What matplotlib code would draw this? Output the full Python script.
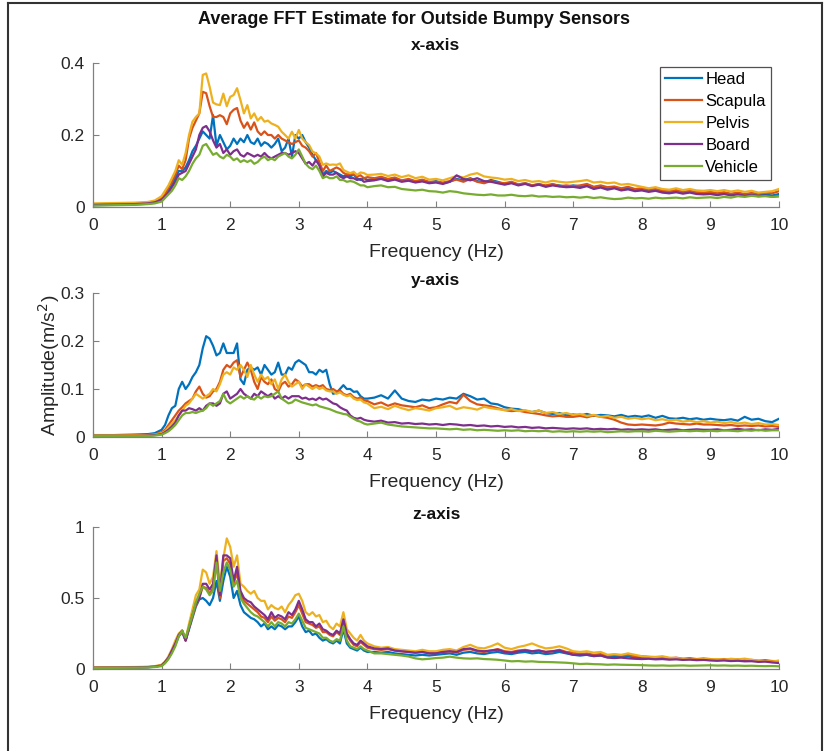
import numpy as np
import matplotlib
matplotlib.use("Agg")
import matplotlib.pyplot as plt
from matplotlib.lines import Line2D

plt.rcParams['font.family'] = ['Liberation Sans', 'DejaVu Sans']

# frequency bins (Hz): coarse below 1 Hz, finer through the resonance band
freq = np.round(np.concatenate([[0, 0.3, 0.6, 0.8, 0.9],
                                np.arange(1.0, 4.001, 0.05),
                                np.arange(4.1, 10.001, 0.1)]), 3)

sensors = ["Head", "Scapula", "Pelvis", "Board", "Vehicle"]
colors = ["#0072BD", "#D95319", "#EDB120", "#7E2F8E", "#77AC30"]

# ---- x-axis amplitudes (m/s^2)
x_head = [0.005, 0.006, 0.007, 0.009, 0.012,
          0.02, 0.03, 0.045, 0.06, 0.08, 0.1, 0.1, 0.11, 0.13, 0.155,
          0.17, 0.19, 0.21, 0.2, 0.19, 0.255, 0.17, 0.2, 0.18, 0.16,
          0.17, 0.19, 0.175, 0.19, 0.18, 0.2, 0.18, 0.175, 0.19, 0.17,
          0.18, 0.175, 0.165, 0.175, 0.19, 0.155, 0.165, 0.19, 0.14, 0.2,
          0.19, 0.2, 0.18, 0.165, 0.145, 0.13, 0.12, 0.09, 0.1, 0.095,
          0.1, 0.095, 0.09, 0.085, 0.09, 0.085, 0.09, 0.08, 0.075, 0.08,
          0.075,
          0.078, 0.082, 0.076, 0.08, 0.072, 0.075, 0.07, 0.074, 0.068,
          0.072, 0.066, 0.07, 0.078, 0.074, 0.08, 0.072, 0.068, 0.075, 0.07,
          0.064, 0.068, 0.062, 0.066, 0.06, 0.064, 0.058, 0.062, 0.06, 0.056,
          0.06, 0.057, 0.062, 0.055, 0.058, 0.052, 0.055, 0.05, 0.053, 0.048,
          0.05, 0.046, 0.048, 0.044, 0.042, 0.045, 0.04, 0.043, 0.04, 0.038,
          0.04, 0.036, 0.039, 0.035, 0.038, 0.034, 0.036, 0.033, 0.035, 0.032, 0.036]
x_scapula = [0.008, 0.009, 0.01, 0.012, 0.015,
             0.025, 0.035, 0.055, 0.07, 0.09, 0.115, 0.105, 0.13, 0.19, 0.22,
             0.24, 0.26, 0.32, 0.316, 0.28, 0.25, 0.25, 0.255, 0.25, 0.23,
             0.26, 0.27, 0.275, 0.24, 0.22, 0.235, 0.215, 0.235, 0.21, 0.2,
             0.21, 0.2, 0.2, 0.19, 0.2, 0.19, 0.185, 0.18, 0.175, 0.18,
             0.185, 0.17, 0.165, 0.155, 0.14, 0.15, 0.125, 0.1, 0.115, 0.1,
             0.105, 0.11, 0.105, 0.095, 0.09, 0.092, 0.09, 0.085, 0.088, 0.08,
             0.083,
             0.08, 0.084, 0.078, 0.082, 0.074, 0.078, 0.072, 0.076, 0.07,
             0.07, 0.068, 0.072, 0.076, 0.07, 0.078, 0.07, 0.066, 0.072, 0.068,
             0.066, 0.07, 0.063, 0.066, 0.06, 0.063, 0.06, 0.064, 0.058, 0.06,
             0.058, 0.06, 0.064, 0.056, 0.06, 0.055, 0.057, 0.052, 0.056, 0.05,
             0.052, 0.048, 0.05, 0.046, 0.044, 0.047, 0.042, 0.045, 0.041, 0.04,
             0.042, 0.039, 0.041, 0.037, 0.04, 0.036, 0.039, 0.037, 0.04, 0.038, 0.044]
x_pelvis = [0.01, 0.011, 0.012, 0.014, 0.018,
            0.03, 0.045, 0.06, 0.08, 0.1, 0.13, 0.117, 0.15, 0.2, 0.237,
            0.25, 0.26, 0.367, 0.371, 0.334, 0.29, 0.285, 0.283, 0.315, 0.28,
            0.306, 0.311, 0.33, 0.297, 0.26, 0.283, 0.246, 0.26, 0.24, 0.25,
            0.237, 0.24, 0.232, 0.228, 0.223, 0.209, 0.2, 0.19, 0.209, 0.19,
            0.214, 0.19, 0.18, 0.172, 0.154, 0.149, 0.14, 0.117, 0.121, 0.117,
            0.118, 0.117, 0.121, 0.103, 0.098, 0.094, 0.098, 0.089, 0.096, 0.094,
            0.089,
            0.09, 0.092, 0.086, 0.09, 0.083, 0.088, 0.08, 0.084, 0.076,
            0.078, 0.074, 0.08, 0.086, 0.082, 0.09, 0.094, 0.085, 0.082, 0.08,
            0.076, 0.078, 0.072, 0.075, 0.07, 0.072, 0.068, 0.073, 0.07, 0.068,
            0.07, 0.072, 0.075, 0.068, 0.07, 0.066, 0.068, 0.062, 0.064, 0.06,
            0.056, 0.052, 0.055, 0.05, 0.048, 0.052, 0.047, 0.05, 0.046, 0.045,
            0.047, 0.044, 0.047, 0.043, 0.046, 0.042, 0.045, 0.04, 0.042, 0.044, 0.05]
x_board = [0.006, 0.007, 0.008, 0.01, 0.013,
           0.02, 0.03, 0.04, 0.055, 0.07, 0.09, 0.095, 0.1, 0.12, 0.14,
           0.16, 0.2, 0.22, 0.225, 0.21, 0.185, 0.165, 0.175, 0.15, 0.16,
           0.145, 0.155, 0.16, 0.145, 0.14, 0.15, 0.145, 0.14, 0.145, 0.14,
           0.15, 0.14, 0.135, 0.14, 0.145, 0.15, 0.15, 0.145, 0.15, 0.155,
           0.15, 0.135, 0.12, 0.125, 0.115, 0.13, 0.115, 0.085, 0.095, 0.09,
           0.09, 0.095, 0.085, 0.08, 0.085, 0.08, 0.08, 0.075, 0.078, 0.07,
           0.072,
           0.074, 0.078, 0.072, 0.076, 0.07, 0.073, 0.068, 0.071, 0.066,
           0.068, 0.064, 0.07, 0.088, 0.078, 0.074, 0.08, 0.072, 0.07, 0.066,
           0.062, 0.066, 0.06, 0.064, 0.058, 0.062, 0.056, 0.06, 0.057, 0.055,
           0.056, 0.053, 0.058, 0.05, 0.054, 0.048, 0.052, 0.046, 0.049, 0.044,
           0.046, 0.042, 0.045, 0.04, 0.038, 0.041, 0.037, 0.04, 0.036, 0.035,
           0.036, 0.033, 0.036, 0.032, 0.035, 0.031, 0.033, 0.03, 0.032, 0.029, 0.03]
x_vehicle = [0.004, 0.005, 0.006, 0.008, 0.01,
             0.015, 0.025, 0.035, 0.045, 0.06, 0.08, 0.075, 0.085, 0.1, 0.12,
             0.135, 0.145, 0.17, 0.175, 0.16, 0.145, 0.15, 0.14, 0.135, 0.145,
             0.14, 0.13, 0.135, 0.125, 0.13, 0.125, 0.13, 0.12, 0.125, 0.135,
             0.14, 0.13, 0.135, 0.13, 0.14, 0.145, 0.15, 0.14, 0.135, 0.145,
             0.16, 0.14, 0.12, 0.11, 0.105, 0.115, 0.1, 0.08, 0.085, 0.08,
             0.08, 0.085, 0.075, 0.075, 0.07, 0.072, 0.07, 0.065, 0.06, 0.06,
             0.055,
             0.058, 0.06, 0.055, 0.056, 0.05, 0.048, 0.046, 0.048, 0.044,
             0.043, 0.04, 0.044, 0.042, 0.038, 0.036, 0.034, 0.033, 0.035, 0.032,
             0.032, 0.034, 0.031, 0.03, 0.032, 0.029, 0.03, 0.028, 0.029, 0.027,
             0.028, 0.026, 0.028, 0.025, 0.027, 0.024, 0.022, 0.023, 0.026, 0.024,
             0.025, 0.023, 0.026, 0.024, 0.025, 0.026, 0.024, 0.027, 0.025, 0.026,
             0.027, 0.025, 0.028, 0.026, 0.03, 0.028, 0.031, 0.029, 0.03, 0.028, 0.03]

# ---- y-axis amplitudes
y_head = [0.004, 0.004, 0.005, 0.006, 0.008,
          0.015, 0.025, 0.045, 0.06, 0.065, 0.1, 0.115, 0.1, 0.11, 0.125,
          0.135, 0.15, 0.185, 0.21, 0.205, 0.19, 0.17, 0.175, 0.195, 0.175,
          0.175, 0.175, 0.195, 0.12, 0.11, 0.14, 0.145, 0.14, 0.145, 0.13,
          0.15, 0.14, 0.13, 0.135, 0.155, 0.13, 0.13, 0.145, 0.14, 0.155,
          0.16, 0.155, 0.15, 0.135, 0.135, 0.13, 0.14, 0.135, 0.14, 0.11,
          0.09, 0.092, 0.1, 0.108, 0.1, 0.1, 0.094, 0.095, 0.085, 0.08,
          0.08,
          0.082, 0.087, 0.08, 0.097, 0.08, 0.075, 0.073, 0.078, 0.076,
          0.08, 0.078, 0.082, 0.08, 0.09, 0.085, 0.078, 0.08, 0.07, 0.068,
          0.062, 0.059, 0.058, 0.054, 0.052, 0.055, 0.05, 0.048, 0.05, 0.045,
          0.047, 0.045, 0.048, 0.044, 0.046, 0.045, 0.043, 0.046, 0.042, 0.044,
          0.042, 0.045, 0.04, 0.044, 0.039, 0.038, 0.04, 0.037, 0.039, 0.036,
          0.038, 0.036, 0.035, 0.037, 0.034, 0.042, 0.036, 0.038, 0.033, 0.031, 0.038]
y_scapula = [0.003, 0.003, 0.004, 0.004, 0.005,
             0.01, 0.015, 0.025, 0.035, 0.045, 0.055, 0.062, 0.07, 0.075, 0.08,
             0.095, 0.105, 0.09, 0.082, 0.085, 0.095, 0.1, 0.115, 0.14, 0.15,
             0.145, 0.155, 0.16, 0.125, 0.14, 0.155, 0.14, 0.115, 0.1, 0.125,
             0.115, 0.11, 0.12, 0.1, 0.095, 0.11, 0.115, 0.105, 0.11, 0.12,
             0.115, 0.105, 0.11, 0.11, 0.105, 0.108, 0.105, 0.108, 0.1, 0.098,
             0.1, 0.095, 0.097, 0.09, 0.087, 0.09, 0.083, 0.08, 0.082, 0.076,
             0.075,
             0.068, 0.072, 0.065, 0.07, 0.066, 0.064, 0.062, 0.066, 0.06,
             0.062, 0.068, 0.073, 0.07, 0.088, 0.075, 0.068, 0.066, 0.064, 0.06,
             0.056, 0.054, 0.055, 0.052, 0.05, 0.048, 0.045, 0.043, 0.044, 0.042,
             0.042, 0.044, 0.041, 0.045, 0.042, 0.04, 0.036, 0.03, 0.026, 0.025,
             0.026, 0.025, 0.024, 0.026, 0.03, 0.028, 0.027, 0.026, 0.028, 0.026,
             0.026, 0.025, 0.024, 0.025, 0.023, 0.024, 0.023, 0.024, 0.022, 0.023, 0.021]
y_pelvis = [0.003, 0.003, 0.003, 0.004, 0.005,
            0.008, 0.012, 0.02, 0.028, 0.035, 0.045, 0.055, 0.065, 0.07, 0.08,
            0.09, 0.085, 0.08, 0.085, 0.09, 0.1, 0.095, 0.11, 0.13, 0.135,
            0.13, 0.145, 0.14, 0.15, 0.14, 0.125, 0.15, 0.13, 0.115, 0.13,
            0.12, 0.125, 0.11, 0.12, 0.1, 0.12, 0.13, 0.115, 0.105, 0.11,
            0.115, 0.1, 0.11, 0.105, 0.1, 0.105, 0.1, 0.103, 0.097, 0.095,
            0.095, 0.09, 0.093, 0.088, 0.085, 0.087, 0.08, 0.077, 0.078, 0.072,
            0.07,
            0.06, 0.063, 0.058, 0.065, 0.06, 0.056, 0.06, 0.058, 0.055,
            0.06, 0.062, 0.065, 0.058, 0.062, 0.06, 0.057, 0.063, 0.06, 0.058,
            0.056, 0.058, 0.054, 0.056, 0.052, 0.055, 0.05, 0.052, 0.048, 0.05,
            0.046, 0.048, 0.044, 0.046, 0.042, 0.044, 0.04, 0.042, 0.038, 0.04,
            0.037, 0.039, 0.035, 0.037, 0.034, 0.036, 0.032, 0.034, 0.031, 0.033,
            0.03, 0.032, 0.029, 0.031, 0.028, 0.03, 0.027, 0.029, 0.026, 0.027, 0.025]
y_board = [0.002, 0.002, 0.002, 0.003, 0.004,
           0.006, 0.01, 0.015, 0.022, 0.03, 0.045, 0.055, 0.055, 0.06, 0.058,
           0.055, 0.06, 0.055, 0.065, 0.07, 0.07, 0.065, 0.07, 0.09, 0.095,
           0.08, 0.085, 0.09, 0.1, 0.09, 0.085, 0.08, 0.09, 0.085, 0.095,
           0.09, 0.085, 0.09, 0.08, 0.085, 0.08, 0.085, 0.08, 0.085, 0.085,
           0.085, 0.08, 0.082, 0.078, 0.08, 0.077, 0.082, 0.078, 0.08, 0.075,
           0.07, 0.068, 0.062, 0.058, 0.055, 0.045, 0.04, 0.038, 0.04, 0.036,
           0.034,
           0.032, 0.034, 0.03, 0.031, 0.028, 0.029, 0.027, 0.028, 0.026,
           0.027, 0.025, 0.027, 0.026, 0.024, 0.025, 0.023, 0.024, 0.022, 0.023,
           0.021, 0.022, 0.02, 0.021, 0.019, 0.02, 0.018, 0.019, 0.018, 0.017,
           0.018, 0.017, 0.018, 0.016, 0.017, 0.016, 0.017, 0.015, 0.016, 0.015,
           0.016, 0.015, 0.016, 0.014, 0.015, 0.016, 0.014, 0.015, 0.016, 0.015,
           0.015, 0.016, 0.014, 0.015, 0.017, 0.015, 0.016, 0.014, 0.016, 0.015, 0.017]
y_vehicle = [0.002, 0.002, 0.002, 0.002, 0.003,
             0.005, 0.008, 0.012, 0.018, 0.025, 0.035, 0.045, 0.05, 0.05, 0.052,
             0.05, 0.053, 0.055, 0.06, 0.07, 0.065, 0.07, 0.075, 0.09, 0.075,
             0.07, 0.075, 0.08, 0.085, 0.08, 0.085, 0.08, 0.078, 0.085, 0.08,
             0.085, 0.083, 0.085, 0.09, 0.095, 0.08, 0.075, 0.07, 0.072, 0.078,
             0.075, 0.072, 0.07, 0.068, 0.066, 0.068, 0.064, 0.062, 0.06, 0.058,
             0.055, 0.052, 0.05, 0.048, 0.047, 0.042, 0.038, 0.034, 0.032, 0.028,
             0.026,
             0.028, 0.03, 0.026, 0.024, 0.022, 0.021, 0.02, 0.019, 0.018,
             0.018, 0.017, 0.016, 0.017, 0.015, 0.016, 0.014, 0.015, 0.014, 0.013,
             0.014, 0.013, 0.014, 0.012, 0.013, 0.012, 0.013, 0.011, 0.012, 0.011,
             0.012, 0.011, 0.012, 0.011, 0.012, 0.01, 0.011, 0.012, 0.011, 0.012,
             0.012, 0.011, 0.013, 0.012, 0.011, 0.012, 0.013, 0.012, 0.013, 0.012,
             0.013, 0.012, 0.014, 0.013, 0.012, 0.014, 0.013, 0.015, 0.013, 0.014, 0.014]

# ---- z-axis amplitudes
z_head = [0.008, 0.009, 0.01, 0.012, 0.016,
          0.025, 0.045, 0.075, 0.12, 0.17, 0.23, 0.26, 0.2, 0.28, 0.36,
          0.44, 0.49, 0.5, 0.48, 0.45, 0.5, 0.62, 0.48, 0.62, 0.72,
          0.65, 0.5, 0.55, 0.45, 0.4, 0.38, 0.36, 0.35, 0.33, 0.3,
          0.32, 0.28, 0.3, 0.28, 0.31, 0.3, 0.28, 0.3, 0.3, 0.33,
          0.37, 0.3, 0.26, 0.27, 0.24, 0.25, 0.22, 0.2, 0.21, 0.19,
          0.18, 0.2, 0.18, 0.28, 0.18, 0.15, 0.14, 0.13, 0.15, 0.13,
          0.12,
          0.12, 0.115, 0.12, 0.11, 0.105, 0.1, 0.095, 0.1, 0.095,
          0.1, 0.105, 0.11, 0.1, 0.115, 0.12, 0.11, 0.105, 0.115, 0.12,
          0.11, 0.105, 0.115, 0.12, 0.11, 0.115, 0.105, 0.11, 0.12, 0.11,
          0.1, 0.095, 0.1, 0.09, 0.095, 0.085, 0.09, 0.085, 0.09, 0.08,
          0.085, 0.08, 0.075, 0.08, 0.07, 0.075, 0.068, 0.072, 0.065, 0.07,
          0.065, 0.062, 0.066, 0.06, 0.063, 0.058, 0.06, 0.055, 0.058, 0.052, 0.05]
z_scapula = [0.01, 0.011, 0.012, 0.014, 0.018,
             0.025, 0.05, 0.08, 0.13, 0.18, 0.24, 0.27, 0.2, 0.29, 0.37,
             0.45, 0.5, 0.58, 0.57, 0.53, 0.57, 0.76, 0.5, 0.76, 0.78,
             0.74, 0.6, 0.68, 0.53, 0.48, 0.46, 0.44, 0.42, 0.4, 0.37,
             0.36, 0.33, 0.37, 0.34, 0.36, 0.35, 0.33, 0.37, 0.36, 0.4,
             0.45, 0.39, 0.33, 0.32, 0.31, 0.29, 0.3, 0.26, 0.26, 0.24,
             0.23, 0.26, 0.24, 0.34, 0.24, 0.2, 0.17, 0.16, 0.19, 0.17,
             0.15,
             0.14, 0.135, 0.14, 0.13, 0.125, 0.12, 0.115, 0.12, 0.112,
             0.115, 0.12, 0.125, 0.115, 0.135, 0.14, 0.125, 0.12, 0.13, 0.14,
             0.125, 0.12, 0.13, 0.135, 0.125, 0.13, 0.12, 0.125, 0.135, 0.12,
             0.115, 0.105, 0.11, 0.1, 0.105, 0.095, 0.1, 0.095, 0.1, 0.09,
             0.09, 0.085, 0.08, 0.085, 0.075, 0.08, 0.072, 0.076, 0.07, 0.074,
             0.07, 0.066, 0.07, 0.064, 0.068, 0.062, 0.064, 0.058, 0.062, 0.056, 0.055]
z_pelvis = [0.012, 0.013, 0.014, 0.016, 0.02,
            0.03, 0.05, 0.09, 0.14, 0.2, 0.25, 0.27, 0.21, 0.32, 0.42,
            0.52, 0.56, 0.7, 0.68, 0.6, 0.65, 0.83, 0.6, 0.78, 0.92,
            0.86, 0.72, 0.8, 0.6, 0.58, 0.55, 0.53, 0.55, 0.5, 0.48,
            0.48, 0.42, 0.45, 0.43, 0.42, 0.44, 0.4, 0.45, 0.48, 0.52,
            0.53, 0.48, 0.4, 0.38, 0.4, 0.37, 0.38, 0.33, 0.34, 0.3,
            0.28, 0.32, 0.3, 0.4, 0.28, 0.25, 0.22, 0.2, 0.24, 0.2,
            0.18,
            0.16, 0.15, 0.155, 0.14, 0.135, 0.13, 0.125, 0.135, 0.125,
            0.125, 0.135, 0.14, 0.13, 0.155, 0.17, 0.15, 0.145, 0.16, 0.18,
            0.15, 0.14, 0.155, 0.165, 0.18, 0.16, 0.145, 0.15, 0.16, 0.145,
            0.125, 0.12, 0.125, 0.115, 0.12, 0.1, 0.105, 0.1, 0.11, 0.1,
            0.09, 0.087, 0.085, 0.09, 0.08, 0.077, 0.072, 0.068, 0.066, 0.07,
            0.068, 0.07, 0.066, 0.072, 0.068, 0.073, 0.065, 0.06, 0.055, 0.052, 0.06]
z_board = [0.009, 0.01, 0.011, 0.013, 0.017,
           0.025, 0.05, 0.08, 0.13, 0.18, 0.24, 0.27, 0.2, 0.29, 0.38,
           0.46, 0.5, 0.6, 0.6, 0.56, 0.6, 0.8, 0.52, 0.8, 0.8,
           0.78, 0.62, 0.72, 0.55, 0.5, 0.48, 0.47, 0.44, 0.42, 0.4,
           0.38, 0.35, 0.4, 0.36, 0.38, 0.37, 0.35, 0.4, 0.38, 0.42,
           0.48, 0.42, 0.35, 0.33, 0.33, 0.3, 0.32, 0.28, 0.27, 0.25,
           0.24, 0.27, 0.25, 0.35, 0.25, 0.21, 0.18, 0.17, 0.2, 0.18,
           0.16,
           0.145, 0.14, 0.145, 0.13, 0.125, 0.12, 0.115, 0.12, 0.11,
           0.11, 0.12, 0.125, 0.12, 0.14, 0.145, 0.13, 0.125, 0.13, 0.136,
           0.12, 0.115, 0.125, 0.13, 0.125, 0.13, 0.12, 0.125, 0.13, 0.115,
           0.1, 0.098, 0.1, 0.092, 0.095, 0.08, 0.077, 0.08, 0.075, 0.072,
           0.07, 0.072, 0.068, 0.07, 0.066, 0.068, 0.064, 0.066, 0.062, 0.064,
           0.06, 0.058, 0.06, 0.056, 0.058, 0.054, 0.055, 0.05, 0.052, 0.046, 0.042]
z_vehicle = [0.007, 0.008, 0.009, 0.011, 0.014,
             0.02, 0.04, 0.07, 0.11, 0.16, 0.23, 0.27, 0.22, 0.3, 0.38,
             0.47, 0.53, 0.58, 0.56, 0.52, 0.55, 0.75, 0.55, 0.68, 0.75,
             0.7, 0.58, 0.62, 0.5, 0.46, 0.43, 0.4, 0.38, 0.37, 0.35,
             0.33, 0.3, 0.33, 0.3, 0.33, 0.32, 0.3, 0.33, 0.32, 0.35,
             0.39, 0.34, 0.29, 0.28, 0.27, 0.26, 0.25, 0.22, 0.22, 0.2,
             0.19, 0.21, 0.2, 0.3, 0.2, 0.16, 0.15, 0.14, 0.16, 0.14,
             0.13,
             0.11, 0.11, 0.105, 0.1, 0.095, 0.088, 0.075, 0.068, 0.072,
             0.077, 0.08, 0.087, 0.08, 0.075, 0.073, 0.075, 0.07, 0.068, 0.065,
             0.06, 0.054, 0.056, 0.052, 0.054, 0.05, 0.049, 0.048, 0.046, 0.044,
             0.04, 0.035, 0.037, 0.034, 0.033, 0.03, 0.032, 0.03, 0.029, 0.028,
             0.027, 0.025, 0.024, 0.025, 0.023, 0.024, 0.025, 0.023, 0.024, 0.025,
             0.026, 0.024, 0.025, 0.023, 0.024, 0.022, 0.023, 0.021, 0.02, 0.021, 0.019]

x_data = [x_head, x_scapula, x_pelvis, x_board, x_vehicle]
y_data = [y_head, y_scapula, y_pelvis, y_board, y_vehicle]
z_data = [z_head, z_scapula, z_pelvis, z_board, z_vehicle]

x_ticks = [0, 0.2, 0.4]
y_ticks = [0, 0.1, 0.2, 0.3]
z_ticks = [0, 0.5, 1]

fig = plt.figure(figsize=(8.28, 7.51), dpi=100)
W, H = 828, 751

# axes boxes in pixels: left, top, right, bottom
boxes = [(93, 63, 779, 207), (93, 293, 779, 437), (93, 527, 779, 669)]
panels = [("x-axis", x_data, x_ticks, 9), ("y-axis", y_data, y_ticks, 6),
          ("z-axis", z_data, z_ticks, 6)]

axc = '#808080'
txt = '#262626'
axes = []
for (l, t, r, b), (name, data, ticks, tpad) in zip(boxes, panels):
    ax = fig.add_axes([l / W, 1 - b / H, (r - l) / W, (b - t) / H])
    for series, col, lab in zip(data, colors, sensors):
        ax.plot(freq, series, color=col, lw=1.6, label=lab)
    ax.set_xlim(0, 10)
    ax.set_ylim(ticks[0], ticks[-1])
    ax.set_xticks(range(0, 11))
    ax.set_yticks(ticks)
    ax.set_yticklabels([f"{v:g}" for v in ticks])
    for s in ['top', 'right']:
        ax.spines[s].set_visible(False)
    for s in ['left', 'bottom']:
        ax.spines[s].set_color(axc)
        ax.spines[s].set_linewidth(0.9)
    ax.tick_params(direction='in', length=4, width=0.8, color=axc,
                   labelsize=12.5, labelcolor=txt)
    ax.tick_params(axis='x', pad=8)
    ax.tick_params(axis='y', pad=6)
    ax.set_xlabel("Frequency (Hz)", fontsize=14, color=txt, labelpad=8)
    ax.set_title(name, fontsize=12.5, fontweight='bold', color='#111111', pad=tpad)
    axes.append(ax)

axes[1].set_ylabel("Amplitude(m/s$^2$)", fontsize=14, color=txt, labelpad=-1)

leg = axes[0].legend(loc='upper right', bbox_to_anchor=(0.988, 0.97),
                     fontsize=12, frameon=True, fancybox=False,
                     handlelength=2.2, handletextpad=0.2, labelspacing=0.42,
                     borderpad=0.3, borderaxespad=0)
leg.get_frame().set_edgecolor(txt)
leg.get_frame().set_linewidth(0.9)

fig.text(0.5, 1 - 19 / H, "Average FFT Estimate for Outside Bumpy Sensors",
         ha='center', va='center', fontsize=13, fontweight='bold', color='#111111')

# figure border
for xs, ys in [([8 / W, 8 / W], [0, 1 - 3 / H]),
               ([8 / W, 822 / W], [1 - 3 / H, 1 - 3 / H]),
               ([822 / W, 822 / W], [0, 1 - 3 / H])]:
    fig.add_artist(Line2D(xs, ys, color='#333333', lw=1.5))

fig.savefig("out.png", dpi=100, facecolor='white')
